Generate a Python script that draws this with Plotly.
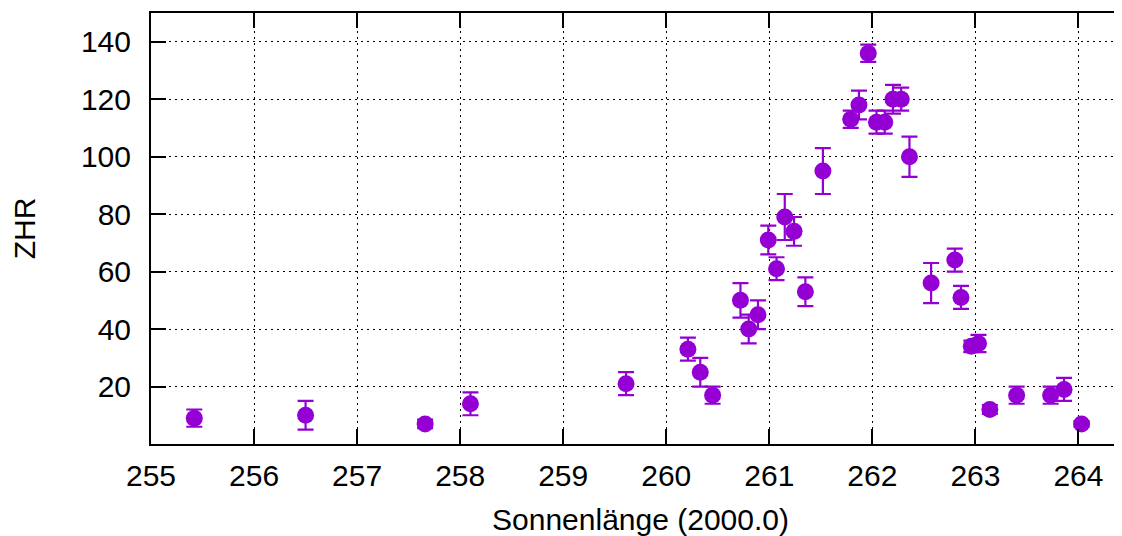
import plotly.graph_objects as go

solar_longitude = [255.42, 256.50, 257.66, 258.10, 259.61, 260.21, 260.33, 260.45,
                   260.72, 260.80, 260.89, 260.99, 261.07, 261.15, 261.24, 261.35,
                   261.52, 261.79, 261.87, 261.96, 262.04, 262.12, 262.20, 262.28,
                   262.36, 262.57, 262.80, 262.86, 262.96, 263.03, 263.14, 263.40,
                   263.73, 263.86, 264.03]
zhr = [9, 10, 7, 14, 21, 33, 25, 17,
       50, 40, 45, 71, 61, 79, 74, 53,
       95, 113, 118, 136, 112, 112, 120, 120,
       100, 56, 64, 51, 34, 35, 12, 17,
       17, 19, 7]
zhr_err = [3, 5, 1.5, 4, 4, 4, 5, 3,
           6, 5, 5, 5, 4, 8, 5, 5,
           8, 3, 5, 3, 4, 4, 5, 4,
           7, 7, 4, 4, 2, 3, 1.5, 3,
           3, 4, 1]

x_ticks = [255, 256, 257, 258, 259, 260, 261, 262, 263, 264]
y_ticks = [20, 40, 60, 80, 100, 120, 140]

color = "#9400D3"
font = "Liberation Sans, Arial, sans-serif"
fsize = 30

fig = go.Figure()
fig.add_trace(go.Scatter(
    x=solar_longitude, y=zhr, mode="markers",
    marker=dict(color=color, size=17, line=dict(width=0)),
    error_y=dict(type="data", array=zhr_err, visible=True,
                 color=color, thickness=2.2, width=8),
    showlegend=False, cliponaxis=False,
))

axis_common = dict(
    showline=True, linecolor="black", linewidth=2, mirror="ticks",
    ticks="inside", ticklen=15, tickwidth=2, tickcolor="black",
    showgrid=True, gridcolor="black", gridwidth=1, griddash="2px,4px",
    zeroline=False, automargin=False,
    tickfont=dict(family=font, size=fsize, color="black"),
)

fig.update_xaxes(range=[255, 264.5], tickvals=x_ticks,
                 title=dict(text="Sonnenlänge (2000.0)", standoff=18,
                            font=dict(family=font, size=fsize, color="black")),
                 ticklabelstandoff=4, **axis_common)
fig.update_yaxes(range=[0, 150], tickvals=y_ticks,
                 title=dict(text="ZHR", standoff=36,
                            font=dict(family=font, size=fsize, color="black")),
                 ticklabelstandoff=12, **axis_common)

fig.update_layout(
    width=1122, height=536,
    margin=dict(l=143, r=0, t=5, b=100),
    paper_bgcolor="white", plot_bgcolor="white",
    font=dict(family=font, size=fsize, color="black"),
)

fig.write_html("out.html")
